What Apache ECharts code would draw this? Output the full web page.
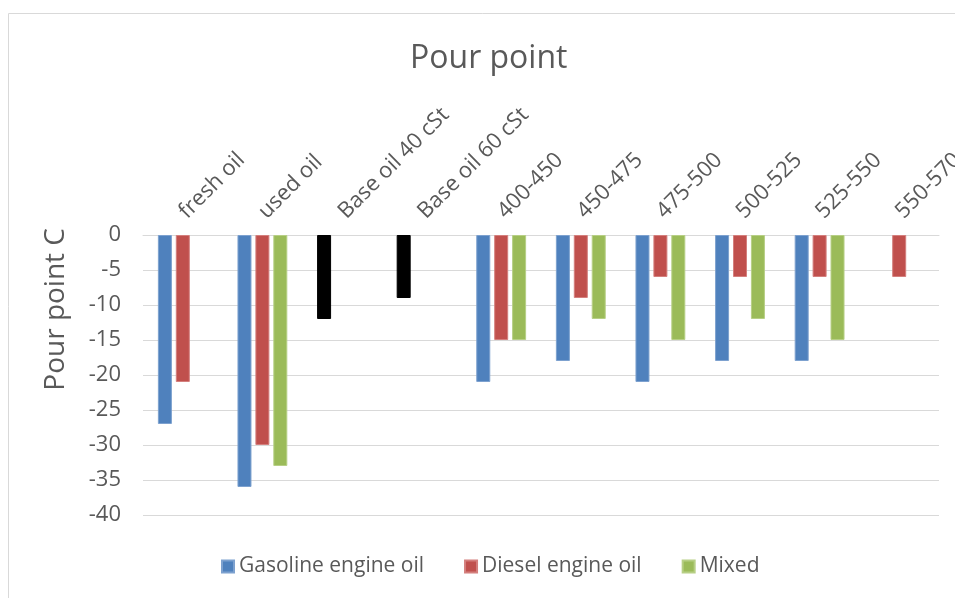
<!DOCTYPE html>
<html>
<head>
<meta charset="utf-8">
<script src="https://cdn.jsdelivr.net/npm/echarts@6/dist/echarts.min.js"></script>
<style>html,body{margin:0;padding:0;background:#fff}#c{width:955px;height:598px}</style>
</head>
<body>
<div id="c"></div>
<script>
var categories = ['fresh oil','used oil','Base oil 40 cSt','Base oil 60 cSt','400-450','450-475','475-500','500-525','525-550','550-570'];
var gasoline = [-27, -36, -12, -9, -21, -18, -21, -18, -18, null];
var diesel = [-21, -30, null, null, -15, -9, -6, -6, -6, -6];
var mixed = [null, -33, null, null, -15, -12, -15, -12, -15, null];
var blackItems = [2, 3];
var yTicks = {min: -40, max: 0, interval: 5};

var FONT = 'Open Sans';
var TXT = '#595959';
var chart = echarts.init(document.getElementById('c'), null, {renderer: 'canvas'});

var gasData = gasoline.map(function (v, i) {
  if (blackItems.indexOf(i) >= 0) return {value: v, itemStyle: {color: '#000000', borderColor: '#000000'}};
  return v;
});

function bar(name, data, color, border) {
  return {
    name: name, type: 'bar', data: data, barWidth: 14, barGap: '28%',
    itemStyle: {color: color, borderColor: border, borderWidth: 1}
  };
}

chart.setOption({
  animation: false,
  title: {text: 'Pour point', left: 405, top: 38, textStyle: {fontFamily: FONT, fontSize: 32, fontWeight: 'normal', color: TXT}},
  grid: {left: 143, right: 16, top: 235, bottom: 83, containLabel: false, outerBoundsMode: 'none'},
  legend: {
    bottom: 16, left: 216, itemWidth: 12, itemHeight: 12, itemGap: 40, icon: 'rect',
    textStyle: {fontFamily: FONT, fontSize: 21, color: TXT},
    data: ['Gasoline engine oil', 'Diesel engine oil', 'Mixed']
  },
  xAxis: {
    type: 'category', position: 'top', data: categories,
    axisLine: {show: true, lineStyle: {color: '#d9d9d9', width: 1}},
    axisTick: {show: false},
    axisLabel: {rotate: 45, margin: 20, interval: 0, hideOverlap: false, fontFamily: FONT, fontSize: 22, color: TXT}
  },
  yAxis: {
    type: 'value', min: yTicks.min, max: yTicks.max, interval: yTicks.interval,
    axisLine: {show: false}, axisTick: {show: false},
    splitLine: {lineStyle: {color: '#d9d9d9', width: 1}},
    axisLabel: {margin: 22, fontFamily: FONT, fontSize: 22, color: TXT}
  },
  graphic: [
    {type: 'text', left: 42, top: 228, rotation: Math.PI / 2,
     style: {text: 'Pour point C', fontFamily: FONT, fontSize: 28, fill: TXT}},
    {type: 'rect', shape: {x: 8.5, y: 13.5, width: 1200, height: 700},
     style: {fill: 'none', stroke: '#d9d9d9', lineWidth: 1}, silent: true, z: -1}
  ],
  series: [
    bar('Gasoline engine oil', gasData, '#4f81bd', '#7da1cf'),
    bar('Diesel engine oil', diesel, '#c0504d', '#d47f7d'),
    bar('Mixed', mixed, '#9bbb59', '#b7cf85')
  ]
});
</script>
</body>
</html>
